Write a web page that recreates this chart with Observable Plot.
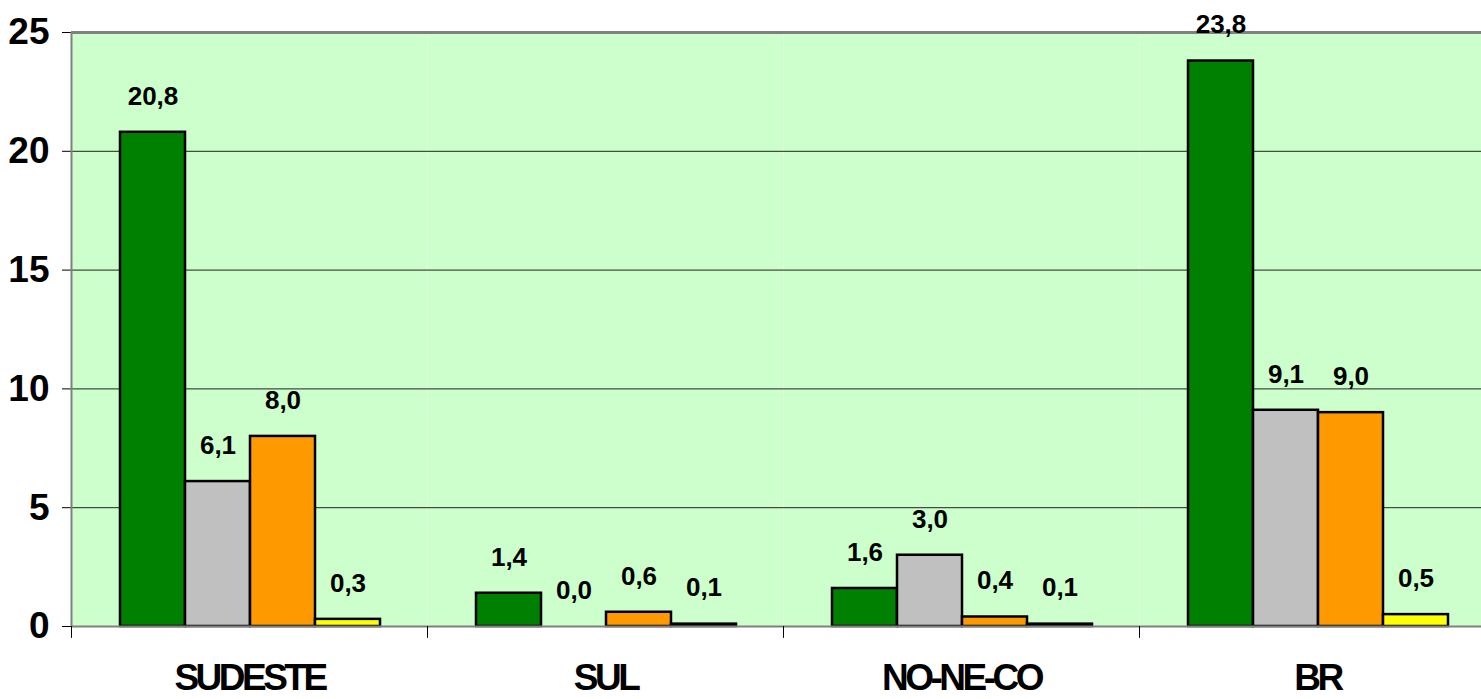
<!DOCTYPE html>
<html><head><meta charset="utf-8">
<script src="https://cdn.jsdelivr.net/npm/d3@7"></script>
<script src="https://cdn.jsdelivr.net/npm/@observablehq/plot@0.6"></script>
<style>
html,body{margin:0;padding:0;background:#fff;}
#chart svg{display:block;}
[aria-label^="y-axis"] text{font-size:37px;font-weight:bold;fill:#000;}
[aria-label^="fx-axis"] text{font-size:37px;font-weight:bold;letter-spacing:-3.5px;fill:#000;}
</style></head><body><div id="chart"></div>
<script>
const categories = ["SUDESTE", "SUL", "NO-NE-CO", "BR"];
const series = ["Série 1", "Série 2", "Série 3", "Série 4"];
const colors = ["#008000", "#C0C0C0", "#FF9900", "#FFFF00"];
const serie1 = [20.8, 1.4, 1.6, 23.8];
const serie2 = [6.1, 0.0, 3.0, 9.1];
const serie3 = [8.0, 0.6, 0.4, 9.0];
const serie4 = [0.3, 0.1, 0.1, 0.5];
const yTicks = [0, 5, 10, 15, 20, 25];
const gridTicks = [5, 10, 15, 20];

const values = [serie1, serie2, serie3, serie4];
const data = categories.flatMap((c, i) => series.map((s, j) => ({cat: c, series: s, value: values[j][i]})));
const fmt = v => v.toFixed(1).replace(".", ",");

const chart = Plot.plot({
  width: 1481, height: 699,
  marginTop: 32, marginBottom: 73, marginLeft: 71, marginRight: 0,
  style: {fontFamily: "'Liberation Sans', Arial, sans-serif", background: "transparent", overflow: "hidden", color: "#000"},
  fx: {domain: categories, range: [71, 1495], padding: 0, tickSize: 0, tickPadding: 37, label: null},
  x: {domain: series, range: [120, 380], padding: 0, axis: null},
  y: {domain: [0, 25], ticks: yTicks, tickSize: 9, tickPadding: 13, label: null, tickFormat: d => String(d)},
  color: {domain: series, range: colors},
  marks: [
    Plot.frame({fill: "#CCFFCC", stroke: "none"}),
    Plot.ruleY(gridTicks, {stroke: "#222", strokeWidth: 1}),
    Plot.barY(data.filter(d => d.value > 0), {fx: "cat", x: "series", y: "value", fill: "series", stroke: "#000", strokeWidth: 2.5}),
    Plot.ruleY([0], {stroke: "#808080", strokeWidth: 2}),
    Plot.ruleY([25], {stroke: "#808080", strokeWidth: 3}),
    Plot.ruleX(categories.slice(0, 1), {fx: d => d, x: () => series[0], dx: -81.5, y1: 0, y2: 25, stroke: "#808080", strokeWidth: 2}),
    Plot.ruleX(categories, {fx: d => d, x: () => series[0], dx: -81.5, y1: 0, y2: -0.5, stroke: "#000", strokeWidth: 1}),
    Plot.text(data, {fx: "cat", x: "series", y: "value", text: d => fmt(d.value), dy: -36, fontSize: 26, fontWeight: "bold", fill: "#000"})
  ]
});
document.getElementById("chart").appendChild(chart);
</script></body></html>
